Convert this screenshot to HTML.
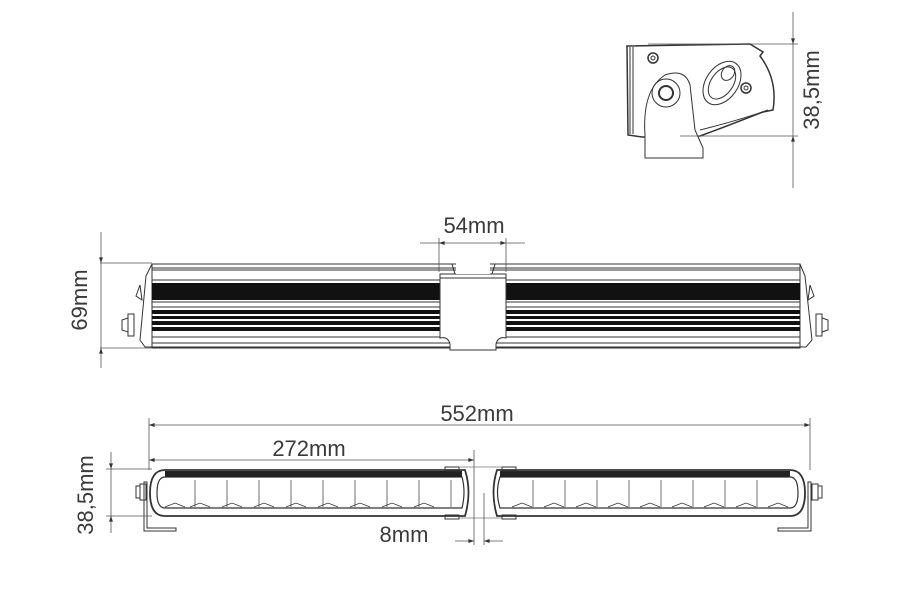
<!DOCTYPE html>
<html><head><style>
body{margin:0;background:#fff}
svg{display:block}
text{font-family:"Liberation Sans",sans-serif;fill:#3a3a3a}
</style></head><body>
<svg width="900" height="600" viewBox="0 0 900 600" xmlns="http://www.w3.org/2000/svg">
<defs>
<marker id="a" viewBox="0 0 10 10" refX="10" refY="5" markerWidth="9" markerHeight="7" orient="auto-start-reverse"><path d="M0,1.5L10,5L0,8.5z" fill="#333"/></marker>
</defs>
<g fill="none" stroke="#333" stroke-width="1">
<!-- TOP SIDE VIEW -->
<path d="M627,46 L750,44 L763,52 L760,56 Q778,80 773,110 L763,112 Q730,125 700,136 L642,137 L628,135 Z" stroke-width="1.5"/>
<path d="M630,47 L630,134 M633,47 L633,134"/>
<path d="M645,150 L645,135 Q642,90 665,75 Q685,68 690,85 L695,130 L703,148 L703,158 L645,158 Z" fill="#fff"/>
<circle cx="666" cy="93" r="14"/><circle cx="666" cy="93" r="7" stroke-width="2"/>
<circle cx="653" cy="58" r="5" stroke-width="1.5"/><circle cx="653" cy="58" r="2"/>
<circle cx="746" cy="88" r="5" stroke-width="1.5"/><circle cx="746" cy="88" r="2"/>
<ellipse cx="722" cy="83" rx="16" ry="24" transform="rotate(35 722 83)"/>
<ellipse cx="722" cy="83" rx="11" ry="18" transform="rotate(35 722 83)"/>
<ellipse cx="728" cy="73" rx="6" ry="8" transform="rotate(35 728 73)"/>
<path d="M700,130 Q740,120 768,110"/>
<g stroke="#555" stroke-width="0.8">
<line x1="648" y1="44" x2="798" y2="44"/><line x1="680" y1="136" x2="798" y2="136"/>
<line x1="793" y1="12" x2="793" y2="44" marker-end="url(#a)"/>
<line x1="793" y1="188" x2="793" y2="136" marker-end="url(#a)"/>
<line x1="793" y1="44" x2="793" y2="136"/>
</g>
<!-- FRONT VIEW -->
<g stroke-width="1">
<path d="M145,347 L140,340 L146,276 L152,264 L800,264 L805,276 L812,340 L806,347 Z"/>
<rect x="152" y="264" width="648" height="84"/>
<line x1="152" y1="268" x2="800" y2="268"/><line x1="152" y1="270" x2="800" y2="270"/>
<line x1="152" y1="280" x2="800" y2="280"/>
<line x1="152" y1="302" x2="800" y2="302"/><line x1="152" y1="307" x2="800" y2="307"/>
<line x1="152" y1="337" x2="800" y2="337"/><line x1="152" y1="343" x2="800" y2="343"/>
</g>
<rect x="152" y="283" width="648" height="17" fill="#111" stroke="none"/>
<rect x="152" y="310" width="648" height="4" fill="#111" stroke="none"/>
<rect x="152" y="316" width="648" height="3" fill="#111" stroke="none"/>
<rect x="152" y="321" width="648" height="4" fill="#111" stroke="none"/>
<rect x="152" y="327" width="648" height="4" fill="#111" stroke="none"/>
<path d="M128,318 L122,320 L122,330 L128,332 Z M128,314 L134,314 L134,336 L128,336 Z M136,296 L140,285 L142,300 Z"/>
<path d="M822,318 L828,320 L828,330 L822,332 Z M816,314 L822,314 L822,336 L816,336 Z M814,296 L810,285 L808,300 Z"/>
<path d="M440,274 L506,274 L506,338 Q498,336 496,344 L496,350 L450,350 L450,344 Q448,336 440,338 Z" fill="#fff"/>
<line x1="440" y1="278" x2="506" y2="278"/>
<path d="M455,274 L452,264 M492,274 L495,264" stroke="#333"/>
<rect x="456" y="262" width="34" height="12" fill="#fff" stroke="none"/>
<g stroke="#555" stroke-width="0.8">
<line x1="100" y1="263" x2="152" y2="263"/><line x1="100" y1="348" x2="152" y2="348"/>
<line x1="101" y1="232" x2="101" y2="263" marker-end="url(#a)"/>
<line x1="101" y1="368" x2="101" y2="348" marker-end="url(#a)"/>
<line x1="101" y1="263" x2="101" y2="348"/>
<line x1="439" y1="238" x2="439" y2="272"/><line x1="506" y1="238" x2="506" y2="272"/>
<line x1="420" y1="243" x2="439" y2="243"/><line x1="525" y1="243" x2="506" y2="243"/>
<line x1="439" y1="243" x2="506" y2="243" marker-start="url(#a)" marker-end="url(#a)"/>
</g>
<!-- BOTTOM VIEW -->
<g stroke-width="1.2">
<path d="M165,470 L465,470 Q472,492 465,516 L165,516 Q150,516 150,493 Q150,470 165,470 Z" stroke-width="1.8"/>
<path d="M165,477 L462,477 Q466,492 462,508 L165,508 Q157,508 157,493 Q157,477 165,477 Z"/>
<path d="M497,470 L790,470 Q805,470 805,493 Q805,516 790,516 L497,516 Q490,492 497,470 Z" stroke-width="1.8"/>
<path d="M500,477 L790,477 Q798,477 798,493 Q798,508 790,508 L500,508 Q495,492 500,477 Z"/>
</g>
<rect x="165" y="471" width="297" height="6" fill="#222" stroke="none"/>
<rect x="500" y="471" width="290" height="6" fill="#222" stroke="none"/>
<g stroke-width="0.7">
<path d="M195,480 V507 M227,480 V507 M259,480 V507 M291,480 V507 M323,480 V507 M355,480 V507 M387,480 V507 M419,480 V507 M451,480 V507"/>
<path d="M533,480 V507 M565,480 V507 M597,480 V507 M629,480 V507 M661,480 V507 M693,480 V507 M725,480 V507 M757,480 V507"/>
<path d="M165,507 L175,503 L185,507 M190,507 L200,503 L210,507 M222,507 L232,503 L242,507 M254,507 L264,503 L274,507 M286,507 L296,503 L306,507 M318,507 L328,503 L338,507 M350,507 L360,503 L370,507 M382,507 L392,503 L402,507 M414,507 L424,503 L434,507"/>
<path d="M512,507 L522,503 L532,507 M544,507 L554,503 L564,507 M576,507 L586,503 L596,507 M608,507 L618,503 L628,507 M640,507 L650,503 L660,507 M672,507 L682,503 L692,507 M704,507 L714,503 L724,507 M736,507 L746,503 L756,507 M768,507 L778,503 L788,507"/>
</g>
<path d="M147,482 L147,528 L176,528 L176,531 L144,531 L144,482 Z M140,484 L146,484 L146,500 L140,500 Z M136,486 L140,486 L140,498 L136,498 Z"/>
<path d="M808,482 L808,528 L778,528 L778,531 L811,531 L811,482 Z M812,484 L818,484 L818,500 L812,500 Z M818,486 L822,486 L822,498 L818,498 Z"/>
<rect x="445" y="467" width="14" height="4"/><rect x="445" y="515" width="14" height="4"/>
<rect x="502" y="467" width="14" height="4"/><rect x="502" y="515" width="14" height="4"/>
<g stroke="#777" stroke-width="0.8">
<line x1="459" y1="467" x2="502" y2="467"/><line x1="459" y1="518" x2="502" y2="518"/>
</g>
<g stroke="#555" stroke-width="0.8">
<line x1="149" y1="418" x2="149" y2="470"/><line x1="810" y1="418" x2="810" y2="470"/>
<line x1="149" y1="425" x2="810" y2="425" marker-start="url(#a)" marker-end="url(#a)"/>
<line x1="474" y1="450" x2="474" y2="545"/>
<line x1="149" y1="460" x2="474" y2="460" marker-start="url(#a)" marker-end="url(#a)"/>
<line x1="484" y1="493" x2="484" y2="545"/>
<line x1="455" y1="541" x2="474" y2="541" marker-end="url(#a)"/>
<line x1="503" y1="541" x2="484" y2="541" marker-end="url(#a)"/>
<line x1="106" y1="469" x2="152" y2="469"/><line x1="106" y1="516" x2="152" y2="516"/>
<line x1="111" y1="452" x2="111" y2="469" marker-end="url(#a)"/>
<line x1="111" y1="533" x2="111" y2="516" marker-end="url(#a)"/>
<line x1="111" y1="469" x2="111" y2="516"/>
</g>
</g>
<g font-size="22">
<text x="819" y="90" text-anchor="middle" transform="rotate(-90 819 90)">38,5mm</text>
<text x="87" y="300" text-anchor="middle" transform="rotate(-90 87 300)">69mm</text>
<text x="474" y="233" text-anchor="middle">54mm</text>
<text x="477" y="421" text-anchor="middle">552mm</text>
<text x="309" y="456" text-anchor="middle">272mm</text>
<text x="404" y="542" text-anchor="middle">8mm</text>
<text x="93" y="495" text-anchor="middle" transform="rotate(-90 93 495)">38,5mm</text>
</g>
</svg>
</body></html>
